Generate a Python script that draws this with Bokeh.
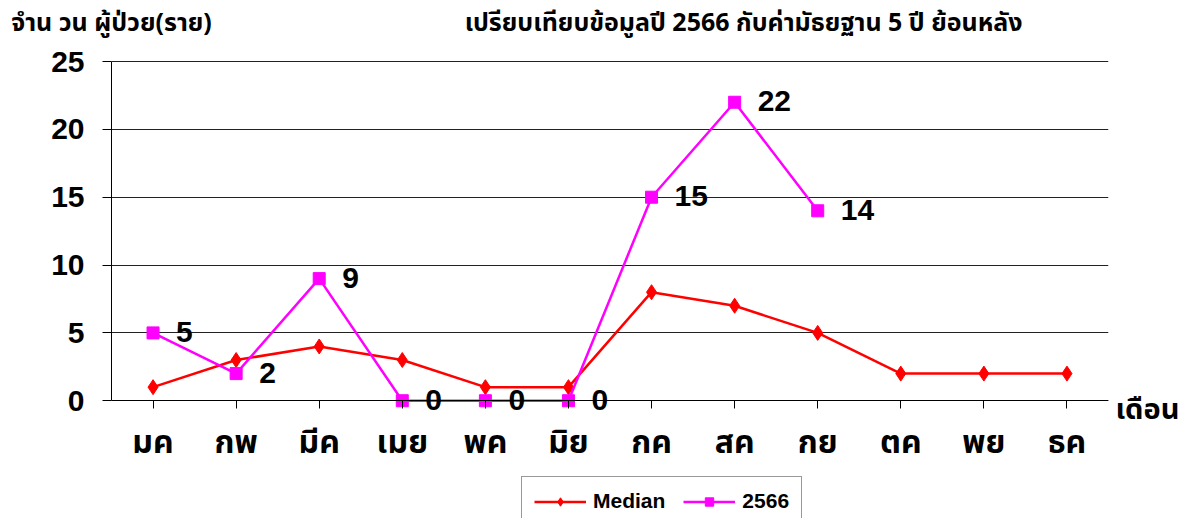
from bokeh.plotting import figure
from bokeh.models import (Range1d, LabelSet, ColumnDataSource,
                          Legend, LegendItem, FixedTicker, LinearAxis)
from bokeh.core.properties import value
from bokeh.embed import file_html
from bokeh.resources import INLINE

months = ["มค", "กพ", "มีค", "เมย", "พค", "มิย", "กค", "สค", "กย", "ตค", "พย", "ธค"]
median = [1, 3, 4, 3, 1, 1, 8, 7, 5, 2, 2, 2]
y2566 = [5, 2, 9, 0, 0, 0, 15, 22, 14]
y_ticks = [0, 5, 10, 15, 20, 25]

y_title = "จำน วน ผู้ป่วย(ราย)"
chart_title = "เปรียบเทียบข้อมูลปี 2566 กับค่ามัธยฐาน 5 ปี ย้อนหลัง"
x_title = "เดือน"

THAI = "Tahoma, 'Noto Sans Thai', 'Noto Sans', sans-serif"
LAT = "Liberation Sans"

# month index -> centre of its category slot
xpos = [i + 0.5 for i in range(len(months))]

# the frame reaches down to the bottom of the canvas so that the month names,
# the zero labels and the legend all sit inside it
Y_MIN = -8.68
Y_MAX = 25.15

p = figure(width=1186, height=518, output_backend="svg", toolbar_location=None,
           x_range=Range1d(0, len(months)),
           y_range=Range1d(Y_MIN, Y_MAX),
           min_border_left=111, min_border_right=78, min_border_top=56, min_border_bottom=0)
p.outline_line_color = None
p.background_fill_color = "white"
p.border_fill_color = "white"

# left axis
p.yaxis.ticker = FixedTicker(ticks=y_ticks)
p.yaxis.bounds = (0, 25)
p.yaxis.minor_tick_line_color = None
p.yaxis.major_tick_out = 9
p.yaxis.major_tick_in = 0
p.yaxis.axis_line_color = "black"
p.yaxis.major_tick_line_color = "black"
p.yaxis.major_label_text_font = LAT
p.yaxis.major_label_text_font_style = "bold"
p.yaxis.major_label_text_font_size = "30px"
p.yaxis.major_label_text_color = "black"
p.yaxis.major_label_standoff = 18

# bottom axis at y = 0, month names as tick labels
p.xaxis.fixed_location = 0
p.xaxis.ticker = FixedTicker(ticks=xpos)
p.xaxis.major_label_overrides = {x: m for x, m in zip(xpos, months)}
p.xaxis.minor_tick_line_color = None
p.xaxis.major_tick_out = 8
p.xaxis.major_tick_in = 0
p.xaxis.axis_line_color = "black"
p.xaxis.major_tick_line_color = "black"
p.xaxis.major_label_text_font = THAI
p.xaxis.major_label_text_font_style = "bold"
p.xaxis.major_label_text_font_size = "32px"
p.xaxis.major_label_text_color = "black"
p.xaxis.major_label_standoff = 10

p.xgrid.grid_line_color = None
p.ygrid.grid_line_color = "#222222"
p.ygrid.grid_line_width = 1
p.ygrid.ticker = FixedTicker(ticks=y_ticks)

# top "axis" carrying the header texts
p.extra_x_ranges = {"top": Range1d(0, 1000)}
top_ax = LinearAxis(x_range_name="top", ticker=FixedTicker(ticks=[0, 634]),
                    major_label_overrides={0: y_title, 634: chart_title},
                    axis_line_color=None, major_tick_line_color=None, minor_tick_line_color=None,
                    major_tick_out=0, major_label_standoff=18,
                    major_label_text_font=THAI, major_label_text_font_style="bold",
                    major_label_text_font_size="25px", major_label_text_color="black")
p.add_layout(top_ax, "above")

# right "axis" carrying the x title
p.extra_y_ranges = {"r": Range1d(Y_MIN * 100, Y_MAX * 100)}
right_ax = LinearAxis(y_range_name="r", ticker=FixedTicker(ticks=[-70]),
                      major_label_overrides={-70: x_title},
                      axis_line_color=None, major_tick_line_color=None, minor_tick_line_color=None,
                      major_tick_out=0, major_label_standoff=7,
                      major_label_text_font=THAI, major_label_text_font_style="bold",
                      major_label_text_font_size="29px", major_label_text_color="black")
p.add_layout(right_ax, "right")

# series
src_m = ColumnDataSource(dict(x=xpos, y=median))
src_y = ColumnDataSource(dict(x=xpos[:len(y2566)], y=y2566, t=[str(v) for v in y2566]))

lm = p.line("x", "y", source=src_m, line_color="red", line_width=2.5)
sm = p.scatter("x", "y", source=src_m, marker="diamond", size=15, fill_color="red", line_color="red")
ly = p.line("x", "y", source=src_y, line_color="#ff00ff", line_width=2.5)
sy = p.scatter("x", "y", source=src_y, marker="square", size=12, fill_color="#ff00ff", line_color="#ff00ff")

labels = LabelSet(x="x", y="y", text="t", source=src_y, x_offset=23, y_offset=1,
                  text_baseline="middle", text_align="left",
                  text_font=value(LAT), text_font_style="bold", text_font_size="30px",
                  text_color="black")
p.add_layout(labels)

legend = Legend(items=[LegendItem(label="Median", renderers=[lm, sm]),
                       LegendItem(label="2566", renderers=[ly, sy])],
                orientation="horizontal", location=(410, -8),
                border_line_color="#333333", border_line_width=1.5,
                label_text_font=LAT, label_text_font_style="bold", label_text_font_size="21px",
                label_text_color="black",
                glyph_width=52, glyph_height=21, label_height=21, padding=12, spacing=18, margin=0,
                label_standoff=7, background_fill_color="white")
p.add_layout(legend, "center")

open("out.html", "w").write(file_html(p, INLINE))
